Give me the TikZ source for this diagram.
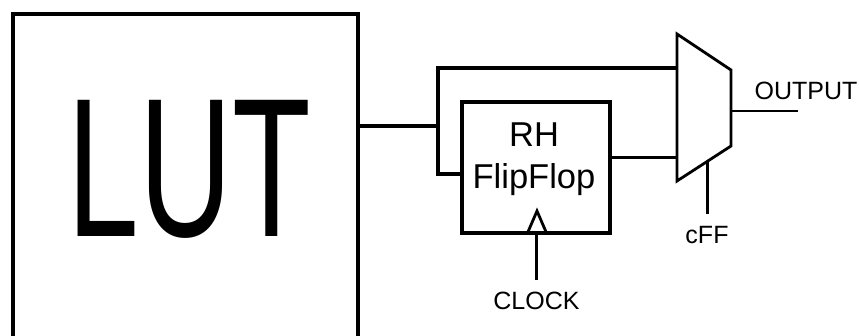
\documentclass[tikz,border=0pt]{standalone}
\usepackage{fontspec}
\setmainfont{Liberation Sans}
\newcommand{\fsz}[1]{\fontsize{#1}{#1}\selectfont}
\tikzset{
  blockbox/.style={draw=black,fill=white,rectangle,inner sep=0pt,outer sep=0pt},
  lbl/.style={inner sep=0pt,outer sep=0pt,anchor=base,text=black},
  wirethick/.style={draw=black,line width=3.6pt,line join=miter},
  wiremid/.style={draw=black,line width=3pt},
  wirethin/.style={draw=black,line width=2.2pt}
}
\begin{document}
\begin{tikzpicture}[x=1pt,y=-1pt]
\useasboundingbox (0,0) rectangle (859,335);
\clip (0,0) rectangle (859,335);
% LUT (runs off the bottom of the picture)
\node[blockbox,line width=3.4pt,minimum width=345pt,minimum height=340pt,anchor=north west] (lut) at (13,14) {};
\node[lbl,xscale=0.65,font=\fsz{198}] (luttext) at (189.5,236) {LUT};
% flip-flop
\node[blockbox,line width=3.6pt,minimum width=148pt,minimum height=131pt,anchor=north west] (ff) at (462,102) {};
\node[lbl,font=\fsz{34.5}] (rh) at (534,146) {RH};
\node[lbl,font=\fsz{34.5}] (fliptext) at (534,188) {FlipFlop};
% clock triangle
\coordinate (clkl) at (527.5,233);
\coordinate (clkr) at (546.5,233);
\coordinate (clkt) at (537,211);
\draw[draw=black,line width=2.8pt,line join=miter] (clkl) -- (clkt) -- (clkr) -- cycle;
% mux
\coordinate (mtl) at (677,34);
\coordinate (mtr) at (731,70);
\coordinate (mbr) at (731,146);
\coordinate (mbl) at (677,181);
\draw[wiremid,line width=2.8pt,line join=miter] (mtl) -- (mtr) -- (mbr) -- (mbl) -- cycle;
% junction and wires
\coordinate (jn) at (438,126);
\coordinate (jtop) at (438,68);
\coordinate (jbot) at (438,174);
\coordinate (muxa) at (677,68);
\coordinate (muxb) at (677,157);
\coordinate (muxo) at (731,111);
\coordinate (outend) at (798,111);
\coordinate (cfftop) at (707,162);
\coordinate (cffend) at (707,214);
\coordinate (clkend) at (536,280);
\draw[wirethick,line width=4pt] (jn -| lut.east) -- (jn);
\draw[wirethick] (muxa) -- (jtop) -- (jbot) -- (jbot -| ff.west);
\draw[wiremid] (muxb -| ff.east) -- (muxb);
\draw[wirethin] (muxo) -- (outend);
\draw[wiremid] (cfftop) -- (cffend);
\draw[wiremid] (clkend) -- (clkend |- ff.south);
% labels
\node[lbl,font=\fsz{25}] (outlabel) at (806,99) {OUTPUT};
\node[lbl,font=\fsz{25}] (clklabel) at (536.5,309) {CLOCK};
\node[lbl,font=\fsz{25}] (cfflabel) at (707,243) {cFF};
\end{tikzpicture}
\end{document}
